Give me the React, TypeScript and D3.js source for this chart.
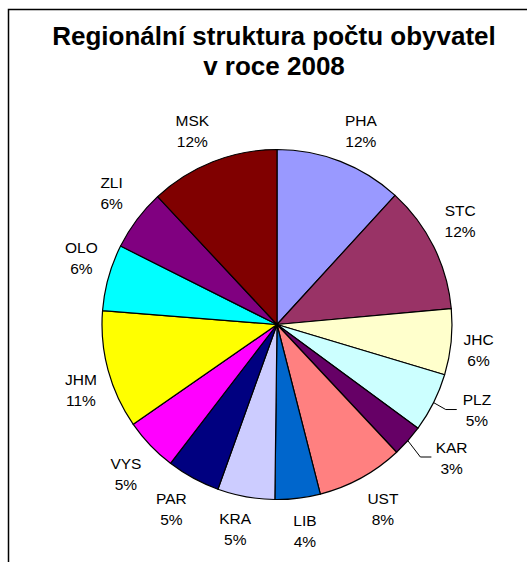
import React, { useEffect, useRef } from "react";
import * as d3 from "d3";

// population 2008 (thousands)
const regions = ["PHA", "STC", "JHC", "PLZ", "KAR", "UST", "LIB", "KRA", "PAR", "VYS", "JHM", "OLO", "ZLI", "MSK"];
const population = [1233, 1231, 636, 570, 307, 836, 437, 553, 516, 515, 1142, 642, 591, 1250];
const colors = ["#9999FF", "#993366", "#FFFFCC", "#CCFFFF", "#660066", "#FF8080", "#0066CC", "#CCCCFF", "#000080", "#FF00FF", "#FFFF00", "#00FFFF", "#800080", "#800000"];
const titleLines = ["Regionální struktura počtu obyvatel", "v roce 2008"];

// labels that excel moved off the slice, drawn with a leader line
const labelShift: Record<string, [number, number]> = { PLZ: [17, -19], KAR: [19, -12] };

const W = 527;
const H = 562;
const cx = 277;
const cy = 324.5;
const radius = 175;
const labelR = 186;
const FONT = "'Liberation Sans', Arial, sans-serif";

const App = () => {
  const ref = useRef<SVGGElement>(null);

  useEffect(() => {
    const data = regions.map((r, i) => ({ region: r, value: population[i] }));
    const total = d3.sum(population);
    const pie = d3.pie<any>().value(d => d.value).sort(null);
    const arc = d3.arc<any>().innerRadius(0).outerRadius(radius);
    const arcs = pie(data);

    const g = d3.select(ref.current);
    g.selectAll("*").remove();

    g.selectAll("path.slice")
      .data(arcs)
      .enter()
      .append("path")
      .attr("class", "slice")
      .attr("d", arc)
      .attr("fill", (d, i) => colors[i])
      .attr("stroke", "#000")
      .attr("stroke-width", 1.2)
      .attr("stroke-linejoin", "round");

    const clamp = (v: number) => Math.max(-1, Math.min(1, v));

    arcs.forEach((d: any) => {
      const a = (d.startAngle + d.endAngle) / 2;
      const s = Math.sin(a);
      const c = Math.cos(a);
      const pct = Math.round((d.data.value / total) * 100) + "%";
      const name = d.data.region;
      let x = labelR * s + 16.5 * clamp(s * 3);
      let y = -labelR * c - 21 * clamp(c * 3);
      const shift = labelShift[name];
      if (shift) {
        x += shift[0];
        y += shift[1];
        const left = x - name.length * 5.4;
        g.append("polyline")
          .attr("points", [
            [radius * s, -radius * c],
            [left - 15, y],
            [left - 4, y]
          ].map(p => p.join(",")).join(" "))
          .attr("fill", "none")
          .attr("stroke", "#000")
          .attr("stroke-width", 1);
      }
      const t = g.append("text")
        .attr("text-anchor", "middle")
        .style("font-family", FONT)
        .style("font-size", "15.5px")
        .attr("fill", "#000");
      t.append("tspan").attr("x", x).attr("y", y - 4.5).text(name);
      t.append("tspan").attr("x", x).attr("y", y + 16.5).text(pct);
    });
  }, []);

  return (
    <svg width={W} height={H} style={{ position: "absolute", left: 0, top: 0, background: "#fff" }}>
      <rect x={8.5} y={9.5} width={600} height={600} fill="#fff" stroke="#000" strokeWidth={1.5} />
      {titleLines.map((line, i) => (
        <text
          key={i}
          x={274}
          y={45 + i * 30}
          textAnchor="middle"
          style={{ fontFamily: FONT, fontSize: "26px", fontWeight: "bold" }}
        >
          {line}
        </text>
      ))}
      <g ref={ref} transform={`translate(${cx} ${cy})`} />
    </svg>
  );
};

export default App;
